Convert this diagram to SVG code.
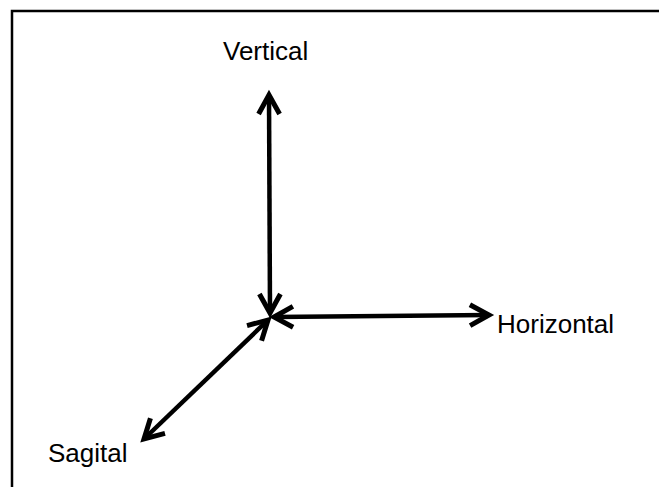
<svg xmlns="http://www.w3.org/2000/svg" width="659" height="487" viewBox="0 0 659 487">
<style>
.lbl{font-family:"Liberation Sans",Arial,sans-serif;font-size:26px;fill:#000}
.ax{stroke:#000;stroke-width:4.5;fill:none;marker-start:url(#head);marker-end:url(#head)}
</style>
<defs>
<marker id="head" markerUnits="userSpaceOnUse" viewBox="-30 -15 34 30" refX="0" refY="0" markerWidth="34" markerHeight="30" orient="auto-start-reverse" overflow="visible">
<path d="M-19,-10.5 L0,0 L-19,10.5" stroke="#000" stroke-width="5" fill="none" stroke-linejoin="miter"/>
</marker>
</defs>
<rect width="659" height="487" fill="#fff"/>
<g id="frame">
<path d="M12,487 V11 H659" stroke="#000" stroke-width="2.5" fill="none"/>
</g>
<g id="connectors">
<line class="ax" x1="269" y1="95" x2="270" y2="313"/>
<line class="ax" x1="274" y1="317" x2="489" y2="315"/>
<line class="ax" x1="268" y1="320" x2="144" y2="439"/>
</g>
<g id="vertical"><text class="lbl" x="223" y="60">Vertical</text></g>
<g id="horizontal"><text class="lbl" x="497" y="333">Horizontal</text></g>
<g id="sagital"><text class="lbl" x="48" y="462">Sagital</text></g>
</svg>
